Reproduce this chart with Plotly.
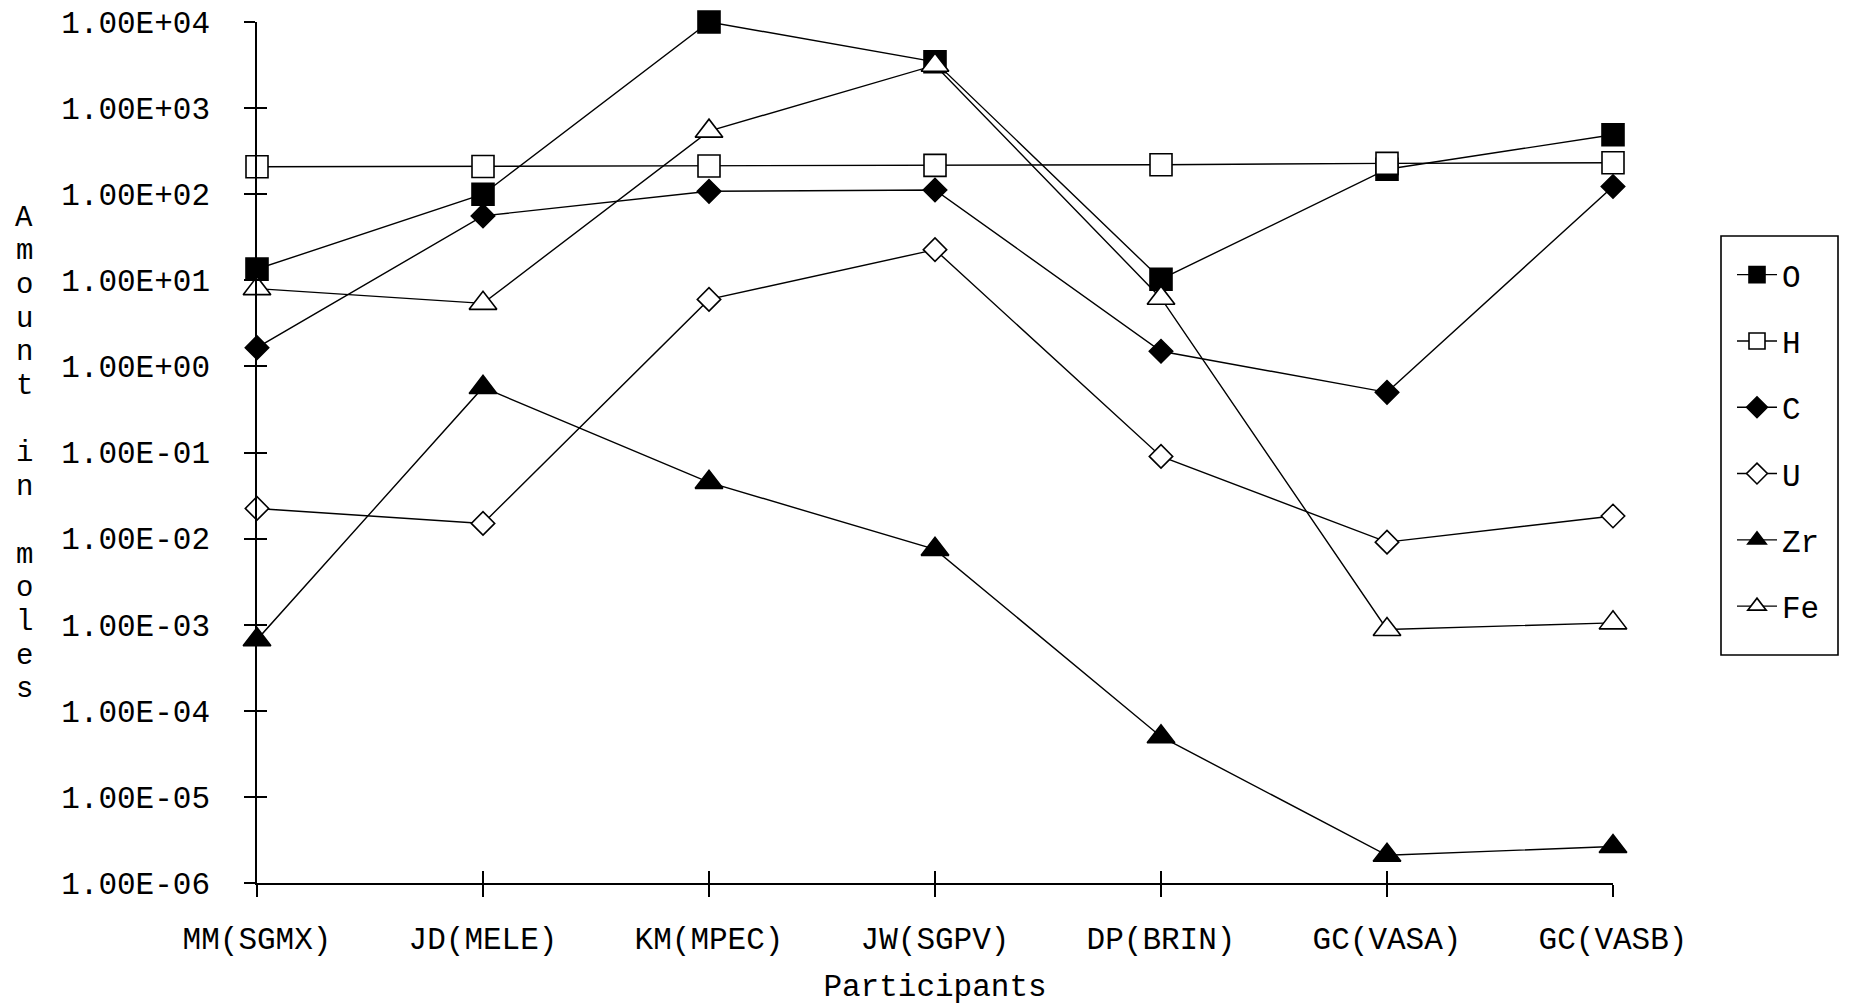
import plotly.graph_objects as go

# Participants (code names) along the x axis
participants = ["MM(SGMX)", "JD(MELE)", "KM(MPEC)", "JW(SGPV)",
                "DP(BRIN)", "GC(VASA)", "GC(VASB)"]

# Amount in moles of each element, per participant
oxygen = [13.5, 100, 1.0e4, 3450, 10.3, 195, 490]
hydrogen = [208, 210, 213, 216, 220, 228, 232]
carbon = [1.65, 56, 108, 112, 1.5, 0.5, 123]
uranium = [0.0224, 0.015, 6.0, 22.7, 0.09, 0.0091, 0.0183]
zirconium = [6.7e-4, 0.57, 0.045, 0.0075, 5.0e-5, 2.1e-6, 2.65e-6]
iron = [8.0, 5.4, 540, 3150, 6.2, 8.8e-4, 1.05e-3]

# Log-axis ticks and their labels
tick_vals = [1e-6, 1e-5, 1e-4, 1e-3, 1e-2, 1e-1, 1e0, 1e1, 1e2, 1e3, 1e4]
tick_text = ["1.00E-06", "1.00E-05", "1.00E-04", "1.00E-03", "1.00E-02",
             "1.00E-01", "1.00E+00", "1.00E+01", "1.00E+02", "1.00E+03",
             "1.00E+04"]

FONT = "Liberation Mono, Courier New, monospace"
INK = "black"

series = [
    ("O", oxygen, "square", INK, 22),
    ("H", hydrogen, "square", "white", 22),
    ("C", carbon, "diamond", INK, 18),
    ("U", uranium, "diamond", "white", 18),
    ("Zr", zirconium, "triangle-up", INK, 24),
    ("Fe", iron, "triangle-up", "white", 24),
]

fig = go.Figure()
for name, vals, symbol, fill, size in series:
    fig.add_trace(go.Scatter(
        x=participants, y=vals, name=name, legendgroup=name,
        mode="lines+markers",
        line=dict(color=INK, width=1.4),
        marker=dict(symbol=symbol, size=size, color=fill,
                    line=dict(color=INK, width=1.6)),
        cliponaxis=False,
    ))

# Empty trace that binds the companion tick axes
fig.add_trace(go.Scatter(x=[], y=[], xaxis="x2", yaxis="y2",
                         showlegend=False, hoverinfo="skip"))

W, H = 1851, 1005
L, R, T, B = 257, 238, 22, 122
pw, ph = W - L - R, H - T - B


def px_x(x):
    return (x - L) / pw


def px_y(y):
    return (H - B - y) / ph


annotations = []
# Vertical, letter-stacked y-axis title
title = "Amount in moles"
for i, ch in enumerate(title):
    if ch == " ":
        continue
    annotations.append(dict(
        text=ch, xref="paper", yref="paper",
        x=px_x(24), y=px_y(218 + 33.7 * i),
        xanchor="center", yanchor="middle", showarrow=False,
        font=dict(family=FONT, size=29, color=INK),
    ))

fig.update_layout(
    width=W, height=H,
    margin=dict(l=L, r=R, t=T, b=B, pad=0, autoexpand=False),
    paper_bgcolor="white", plot_bgcolor="white",
    font=dict(family=FONT, size=31, color=INK),
    showlegend=True,
    legend=dict(
        x=px_x(1732), y=px_y(248), xanchor="left", yanchor="top",
        bgcolor="rgba(0,0,0,0)", borderwidth=0,
        font=dict(family=FONT, size=31, color=INK),
        tracegroupgap=23, itemwidth=40,
    ),
    xaxis=dict(
        type="category", categoryorder="array", categoryarray=participants,
        range=[0, 6], showgrid=False, zeroline=False, automargin=False,
        showline=True, linecolor=INK, linewidth=1.6,
        ticks="outside", ticklen=12, tickwidth=1.5, tickcolor=INK,
        ticklabelstandoff=15,
        title=dict(text="Participants", standoff=18,
                   font=dict(family=FONT, size=31, color=INK)),
    ),
    yaxis=dict(
        type="log", range=[-6, 4], showgrid=False, zeroline=False,
        automargin=False,
        showline=True, linecolor=INK, linewidth=1.6,
        tickmode="array", tickvals=tick_vals, ticktext=tick_text,
        ticks="outside", ticklen=11, tickwidth=1.5, tickcolor=INK,
        ticklabelstandoff=28,
    ),
    # Companion axes draw the inner half of each cross-shaped tick
    xaxis2=dict(
        overlaying="x", anchor="y", side="bottom", type="linear",
        range=[0, 6], tickmode="linear", tick0=0, dtick=1,
        ticks="inside", ticklen=12, tickwidth=1.5, tickcolor=INK,
        showticklabels=False, showline=False, showgrid=False, zeroline=False,
        automargin=False,
    ),
    yaxis2=dict(
        overlaying="y", anchor="x", side="left", type="log", range=[-6, 4],
        tickmode="array", tickvals=tick_vals,
        ticks="inside", ticklen=10, tickwidth=1.5, tickcolor=INK,
        showticklabels=False, showline=False, showgrid=False, zeroline=False,
        automargin=False,
    ),
    annotations=annotations,
    shapes=[dict(
        type="rect", xref="paper", yref="paper",
        x0=px_x(1721), x1=px_x(1838), y0=px_y(655), y1=px_y(236),
        line=dict(color=INK, width=1.6), fillcolor="rgba(0,0,0,0)",
        layer="below",
    )],
)

fig.write_html("out.html")
